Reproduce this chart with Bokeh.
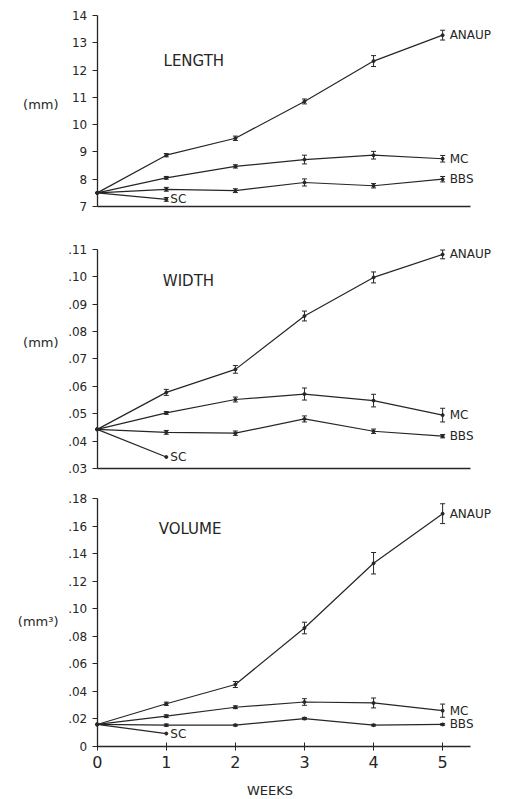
from bokeh.plotting import figure
from bokeh.models import (Range1d, FixedTicker, CustomJSTickFormatter, ColumnDataSource,
                          Whisker, TeeHead, Label)
from bokeh.layouts import column
from bokeh.embed import file_html
from bokeh.resources import INLINE

weeks = [0, 1, 2, 3, 4, 5]
sc_weeks = [0, 1]

# LENGTH (mm)
len_anaup = [7.5, 8.88, 9.5, 10.85, 12.33, 13.28]
len_anaup_err = [0, 0.06, 0.08, 0.09, 0.20, 0.18]
len_mc = [7.5, 8.05, 8.47, 8.72, 8.88, 8.75]
len_mc_err = [0, 0.05, 0.06, 0.16, 0.14, 0.12]
len_bbs = [7.5, 7.63, 7.58, 7.88, 7.76, 8.00]
len_bbs_err = [0, 0.07, 0.07, 0.13, 0.08, 0.10]
len_sc = [7.5, 7.26]
len_sc_err = [0, 0.07]

# WIDTH (mm)
wid_anaup = [0.0443, 0.0578, 0.0662, 0.0857, 0.0998, 0.1082]
wid_anaup_err = [0, 0.0011, 0.0014, 0.0018, 0.0020, 0.0016]
wid_mc = [0.0443, 0.0503, 0.0552, 0.0572, 0.0548, 0.0495]
wid_mc_err = [0, 0.0005, 0.0009, 0.0022, 0.0023, 0.0025]
wid_bbs = [0.0443, 0.0432, 0.0429, 0.0481, 0.0436, 0.0418]
wid_bbs_err = [0, 0.0007, 0.0008, 0.0011, 0.0008, 0.0006]
wid_sc = [0.0443, 0.0342]

# VOLUME (mm3)
vol_anaup = [0.016, 0.031, 0.045, 0.086, 0.133, 0.169]
vol_anaup_err = [0, 0.0012, 0.0022, 0.0042, 0.0078, 0.0072]
vol_mc = [0.016, 0.022, 0.0285, 0.0323, 0.0316, 0.026]
vol_mc_err = [0, 0.0010, 0.0010, 0.0024, 0.0036, 0.0048]
vol_bbs = [0.016, 0.0155, 0.0155, 0.0203, 0.0155, 0.016]
vol_bbs_err = [0, 0.0008, 0.0006, 0.0008, 0.0006, 0.0006]
vol_sc = [0.016, 0.0094]

len_ticks = [7, 8, 9, 10, 11, 12, 13, 14]
wid_ticks = [0.03, 0.04, 0.05, 0.06, 0.07, 0.08, 0.09, 0.10, 0.11]
vol_ticks = [0, 0.02, 0.04, 0.06, 0.08, 0.10, 0.12, 0.14, 0.16, 0.18]

FONT = "DejaVu Sans"
INK = "#262626"
X_RANGE = (-1.40, 5.91)
X_AXIS_END = 5.4

def make_fig(height, yr, ybounds, ticks, last=False):
    p = figure(width=505, height=height, min_border=0,
               x_range=Range1d(*X_RANGE), y_range=Range1d(*yr),
               output_backend="svg", toolbar_location=None)
    p.grid.visible = False
    p.outline_line_color = None
    p.background_fill_color = "white"
    p.border_fill_color = "white"
    ya = p.yaxis[0]
    ya.fixed_location = 0
    ya.bounds = ybounds
    ya.ticker = FixedTicker(ticks=ticks)
    ya.minor_tick_line_color = None
    ya.major_tick_in = 0
    ya.major_tick_out = 5
    ya.axis_line_color = INK
    ya.major_tick_line_color = INK
    ya.axis_line_width = 1.3
    ya.major_label_text_font = FONT
    ya.major_label_text_font_size = "12px"
    ya.major_label_text_color = INK
    ya.major_label_standoff = 5
    xa = p.xaxis[0]
    xa.fixed_location = ybounds[0]
    xa.bounds = (0, X_AXIS_END)
    xa.axis_line_color = INK
    xa.axis_line_width = 1.3
    xa.minor_tick_line_color = None
    if last:
        xa.ticker = FixedTicker(ticks=weeks)
        xa.major_tick_in = 4
        xa.major_tick_out = 4
        xa.major_tick_line_color = INK
        xa.major_label_text_font = FONT
        xa.major_label_text_font_size = "16px"
        xa.major_label_text_color = INK
        xa.major_label_standoff = 6
    else:
        xa.ticker = FixedTicker(ticks=[])
        xa.major_tick_line_color = None
        xa.major_label_text_color = None
    return p

def series(p, xs, ys, errs, name, name_dx=7):
    p.line(xs, ys, line_color=INK, line_width=1.2)
    p.scatter(xs, ys, size=3, color=INK)
    if errs is not None:
        ex = [x for x, e in zip(xs, errs) if e > 0]
        up = [y + e for y, e in zip(ys, errs) if e > 0]
        lo = [y - e for y, e in zip(ys, errs) if e > 0]
        src = ColumnDataSource(dict(x=ex, upper=up, lower=lo))
        p.add_layout(Whisker(source=src, base="x", upper="upper", lower="lower",
                             line_color=INK, line_width=1,
                             upper_head=TeeHead(size=5, line_color=INK, line_width=1),
                             lower_head=TeeHead(size=5, line_color=INK, line_width=1)))
    p.add_layout(Label(x=xs[-1], y=ys[-1], text=name, x_offset=name_dx,
                       text_font=FONT, text_font_size="12px", text_color=INK,
                       text_baseline="middle", text_align="left"))

def title(p, x, y, t):
    p.add_layout(Label(x=x, y=y, text=t, text_font=FONT, text_font_size="15px",
                       text_color=INK, text_baseline="middle", text_align="left"))

def unit(p, y, t):
    p.add_layout(Label(x=-0.56, y=y, text=t, text_font=FONT, text_font_size="13px",
                       text_color=INK, text_baseline="middle", text_align="right"))

# Panel 1: canvas rows 0-230
p1 = make_fig(230, (6.12, 14.55), (7, 14), len_ticks)
series(p1, weeks, len_anaup, len_anaup_err, "ANAUP")
series(p1, weeks, len_mc, len_mc_err, "MC")
series(p1, weeks, len_bbs, len_bbs_err, "BBS")
series(p1, sc_weeks, len_sc, len_sc_err, "SC", 4)
title(p1, 0.96, 12.35, "LENGTH")
unit(p1, 10.75, "(mm)")

# Panel 2: canvas rows 230-490
p2 = make_fig(260, (0.02196, 0.11694), (0.03, 0.11), wid_ticks)
p2.yaxis[0].formatter = CustomJSTickFormatter(code="return tick.toFixed(2).replace(/^0/, '');")
series(p2, weeks, wid_anaup, wid_anaup_err, "ANAUP")
series(p2, weeks, wid_mc, wid_mc_err, "MC")
series(p2, weeks, wid_bbs, wid_bbs_err, "BBS")
series(p2, sc_weeks, wid_sc, None, "SC", 4)
title(p2, 0.95, 0.0984, "WIDTH")
unit(p2, 0.0759, "(mm)")

# Panel 3: canvas rows 490-799
p3 = make_fig(309, (-0.03847, 0.18581), (0, 0.18), vol_ticks, last=True)
p3.yaxis[0].formatter = CustomJSTickFormatter(
    code="return tick === 0 ? '0' : tick.toFixed(2).replace(/^0/, '');")
series(p3, weeks, vol_anaup, vol_anaup_err, "ANAUP")
series(p3, weeks, vol_mc, vol_mc_err, "MC")
series(p3, weeks, vol_bbs, vol_bbs_err, "BBS")
series(p3, sc_weeks, vol_sc, None, "SC", 4)
title(p3, 0.89, 0.158, "VOLUME")
unit(p3, 0.0908, "(mm\u00b3)")
p3.add_layout(Label(x=2.5, y=-0.032, text="WEEKS", text_font=FONT, text_font_size="13px",
                    text_color=INK, text_baseline="middle", text_align="center"))

layout = column(p1, p2, p3, spacing=0)
open("out.html", "w").write(file_html(layout, INLINE))
